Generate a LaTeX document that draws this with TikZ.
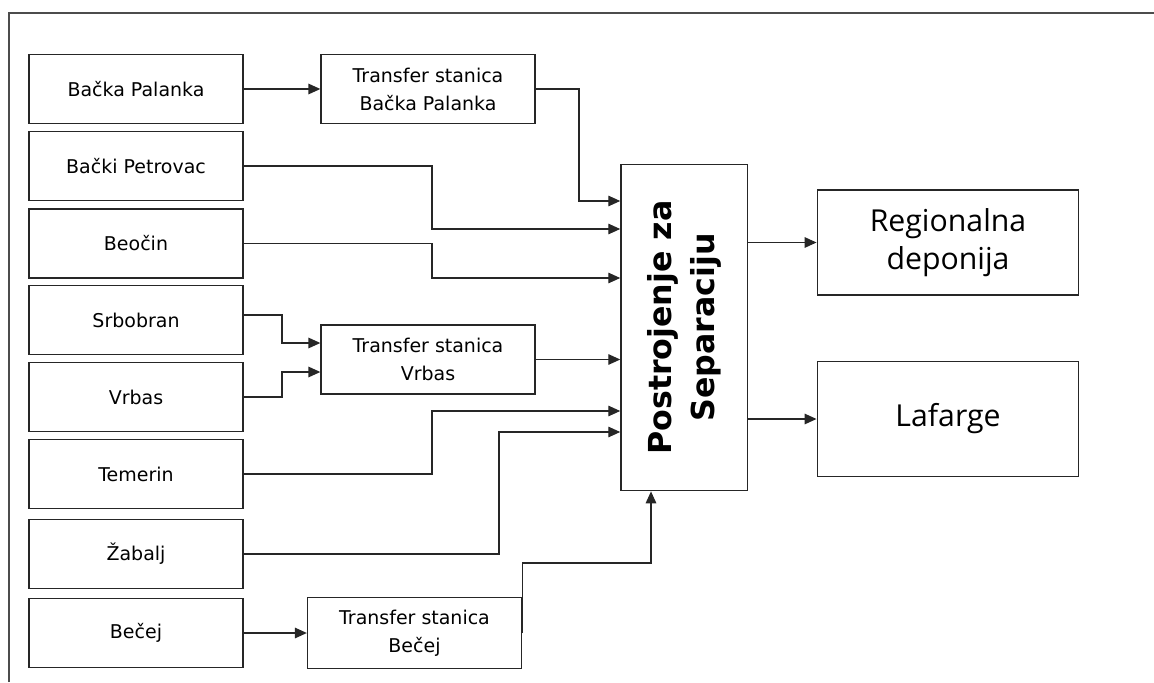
\documentclass[tikz,border=0pt]{standalone}
\usepackage{fontspec}
\setmainfont{DejaVu Sans}
\newfontfamily\bigfont{Open Sans}
\usetikzlibrary{arrows.meta}

\begin{document}
\begin{tikzpicture}[x=0.025cm, y=-0.025cm,
  box/.style={draw=black!85, line width=0.9pt, minimum width=5.35cm,
    minimum height=1.725cm, inner sep=0pt, align=center,
    font=\fontsize{13.5}{20}\selectfont},
  bigbox/.style={draw=black!85, line width=0.9pt, minimum width=6.54cm,
    inner sep=0pt, align=center, font=\bigfont\fontsize{21.5}{27}\selectfont},
  arr/.style={draw=black!85, line width=0.9pt, -{Triangle[length=8.5pt,width=7.5pt]}}]
  \useasboundingbox (0,0) rectangle (1154,682);
  % ---------- outer frame ----------
  \draw[black!70, line width=1.2pt] (9.3,682) -- (9.3,12.7) -- (1154,12.7);

  % ---------- municipalities ----------
  \node[box] (bp)   at (136,89)    {Bačka Palanka};
  \node[box] (bpet) at (136,166)   {Bački Petrovac};
  \node[box] (beo)  at (136,243.5) {Beočin};
  \node[box] (srb)  at (136,320)   {Srbobran};
  \node[box] (vrb)  at (136,397)   {Vrbas};
  \node[box] (tem)  at (136,474)   {Temerin};
  \node[box] (zab)  at (136,554)   {Žabalj};
  \node[box] (bec)  at (136,633)   {Bečej};

  % ---------- transfer stations ----------
  \node[box] (tbp)  at (428,89)    {Transfer stanica\\Bačka Palanka};
  \node[box] (tvrb) at (428,359.5) {Transfer stanica\\Vrbas};
  \node[box, minimum height=1.77cm] (tbec) at (414.5,633) {Transfer stanica\\Bečej};

  % ---------- separation plant and outputs ----------
  \node[draw=black!85, line width=0.9pt, minimum width=3.17cm,
    minimum height=8.16cm] (post) at (684.3,327.5) {};
  \node[rotate=90, align=center, font=\bfseries\fontsize{22.5}{30}\selectfont]
    (postlbl) at (post.center) {Postrojenje za\\Separaciju};
  \node[bigbox, minimum height=2.625cm] (reg) at (948,242.5) {Regionalna\\deponija};
  \node[bigbox, minimum height=2.865cm] (laf) at (948,419)   {Lafarge};

  % ---------- connections ----------
  \draw[arr] (bp) -- (tbp);
  \draw[arr] (tbp.east) -| (579,201) -- (post.west |- 0,201);
  \draw[arr] (bpet.east) -| (432,229) -- (post.west |- 0,229);
  \draw[arr] (beo.east) -| (432,278) -- (post.west |- 0,278);
  \draw[arr] ([yshift=3.5pt]srb.east) -| (282,343) -- (tvrb.west |- 0,343);
  \draw[arr] (vrb.east) -| (282,372) -- (tvrb.west |- 0,372);
  \draw[arr] (tvrb.east) -- (post.west |- tvrb.east);
  \draw[arr] (tem.east) -| (432,411) -- (post.west |- 0,411);
  \draw[arr] (zab.east) -| (499,432) -- (post.west |- 0,432);
  \draw[arr] (bec) -- (tbec);
  \draw[arr] (tbec.east) |- (651,563) -- (post.south -| 651,0);
  \draw[arr] (post.east |- reg.west) -- (reg.west);
  \draw[arr] (post.east |- laf.west) -- (laf.west);
\end{tikzpicture}
\end{document}
